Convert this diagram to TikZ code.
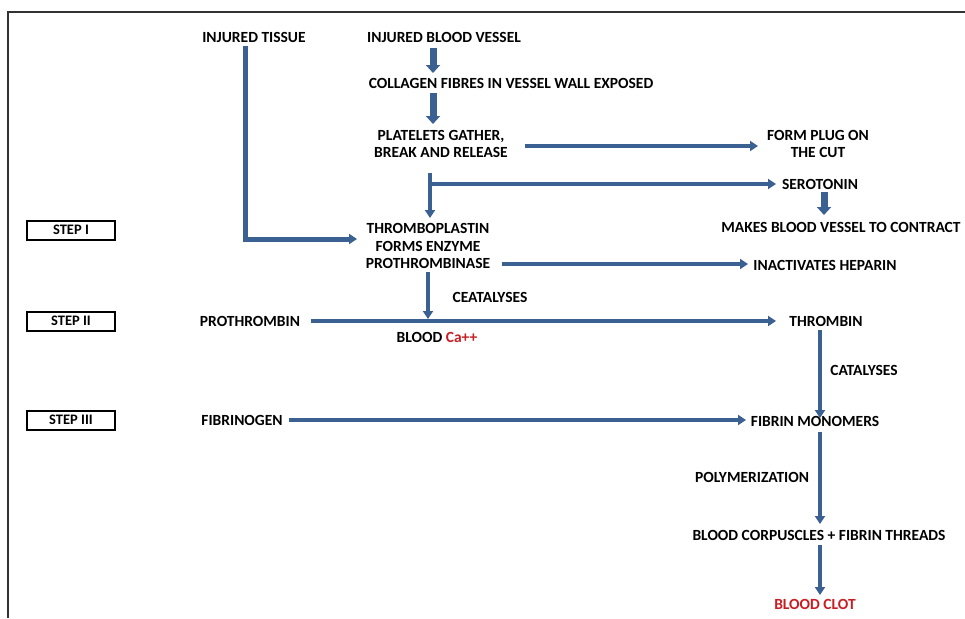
\documentclass[tikz,border=0pt]{standalone}
\usepackage{fontspec}
\setmainfont{Carlito}
\usetikzlibrary{
  arrows.meta,
  positioning,
}
\definecolor{flowblue}{RGB}{59,96,146}
\definecolor{clotred}{RGB}{200,30,35}
\tikzset{
  >={Triangle[width=10pt,length=8pt]},
  flow/.style={draw=flowblue, line width=4pt, ->},
  fatflow/.style={draw=flowblue, line width=7pt, -{Triangle[width=14pt,length=8pt]}},
  stepbox/.style={draw, line width=2pt, minimum width=88pt, minimum height=19pt,
    inner sep=0pt, font=\bfseries\fontsize{14.5}{16}\selectfont},
}

\begin{document}
\begin{tikzpicture}[
        on grid,
        every node/.style={align=center, inner sep=2pt,
          font=\bfseries\fontsize{15.5}{17.5}\selectfont},
      ]
      \useasboundingbox (0,0) rectangle (965pt,-618pt);
      \draw[line width=1.5pt, black!80] (8pt,-618pt) |- (965pt,-12pt);

      % main column
      \node (vessel) at (444pt,-37pt) {INJURED BLOOD VESSEL};
      \node (tissue) [left=190pt of vessel] {INJURED TISSUE};
      \node (collagen) [below right=46pt and 67pt of vessel] {COLLAGEN FIBRES IN VESSEL WALL EXPOSED};
      \node (plat) [below left=61pt and 70pt of collagen] {PLATELETS GATHER,\\ BREAK AND RELEASE};
      \node (plug) [right=377pt of plat] {FORM PLUG ON\\ THE CUT};
      \node (sero) [below right=40pt and 2pt of plug] {SEROTONIN};
      \node (contract) [below right=43pt and 21pt of sero] {MAKES BLOOD VESSEL TO CONTRACT};
      \node (thrombo) [below left=102pt and 13pt of plat] {THROMBOPLASTIN\\ FORMS ENZYME\\ PROTHROMBINASE};
      \node (heparin) [below right=19pt and 397pt of thrombo] {INACTIVATES HEPARIN};
      \node (ceat) [below right=51pt and 62pt of thrombo] {CEATALYSES};
      \node (pro) [below left=75pt and 178pt of thrombo] {PROTHROMBIN};
      \node (thrombin) [right=576pt of pro] {THROMBIN};
      \node (ca) [below right=16pt and 187pt of pro] {BLOOD \textcolor{clotred}{Ca++}};
      \node (catal) [below right=49pt and 38pt of thrombin] {CATALYSES};
      \node (fibrinogen) [below left=99pt and 8pt of pro] {FIBRINOGEN};
      \node (mono) [below left=100pt and 11pt of thrombin] {FIBRIN MONOMERS};
      \node (poly) [below left=56pt and 63pt of mono] {POLYMERIZATION};
      \node (corp) [below right=114pt and 4pt of mono] {BLOOD CORPUSCLES + FIBRIN THREADS};
      \node (clot) [below left=69pt and 4pt of corp, text=clotred] {BLOOD CLOT};

      % steps
      \node (step2) [stepbox, left=179pt of pro] {STEP II};
      \node (step1) [stepbox, above=91pt of step2] {STEP I};
      \node (step3) [stepbox, left=171pt of fibrinogen] {STEP III};

      \coordinate (split) at ([xshift=-11pt,yshift=-40pt]plat.center);
      \coordinate (meet) at (thrombo.center |- pro.center);

      \draw[fatflow] ([xshift=-11pt,yshift=-11pt]vessel.center) -- ([xshift=-78pt,yshift=10pt]collagen.center);
      \draw[fatflow] ([xshift=-78pt,yshift=-10pt]collagen.center) -- ([xshift=-8pt,yshift=20pt]plat.center);
      \draw[flow] ([xshift=84pt,yshift=-2pt]plat.center) -- ([xshift=-60pt,yshift=-2pt]plug.center);
      \draw[flow] ([xshift=-11pt,yshift=-29pt]plat.center) -- ([xshift=2pt,yshift=28pt]thrombo.center);
      \draw[flow] (split) -- ([xshift=-44pt]split -| sero.center);
      \draw[fatflow] ([xshift=4pt,yshift=-8pt]sero.center) -- ([xshift=-17pt,yshift=12pt]contract.center);
      \draw[flow, line width=5pt] ([xshift=-9pt,yshift=-9pt]tissue.center) |- ([xshift=-71pt,yshift=7pt]thrombo.center);
      \draw[flow] ([xshift=74pt,yshift=-18pt]thrombo.center) -- ([xshift=-77pt,yshift=1pt]heparin.center);
      \draw[flow] ([yshift=-26pt]thrombo.center) -- ([yshift=2pt]meet);
      \draw[flow] ([xshift=61pt]pro.center) -- ([xshift=-50pt]thrombin.center);
      \draw[flow] ([xshift=-6pt,yshift=-9pt]thrombin.center) -- ([xshift=5pt,yshift=3pt]mono.center);
      \draw[flow] ([xshift=47pt]fibrinogen.center) -- ([xshift=-69pt]fibrinogen.center -| mono.center);
      \draw[flow] ([xshift=5pt,yshift=-11pt]mono.center) -- ([xshift=1pt,yshift=11pt]corp.center);
      \draw[flow] ([xshift=1pt,yshift=-10pt]corp.center) -- ([xshift=5pt,yshift=9pt]clot.center);
    \end{tikzpicture}
\end{document}
